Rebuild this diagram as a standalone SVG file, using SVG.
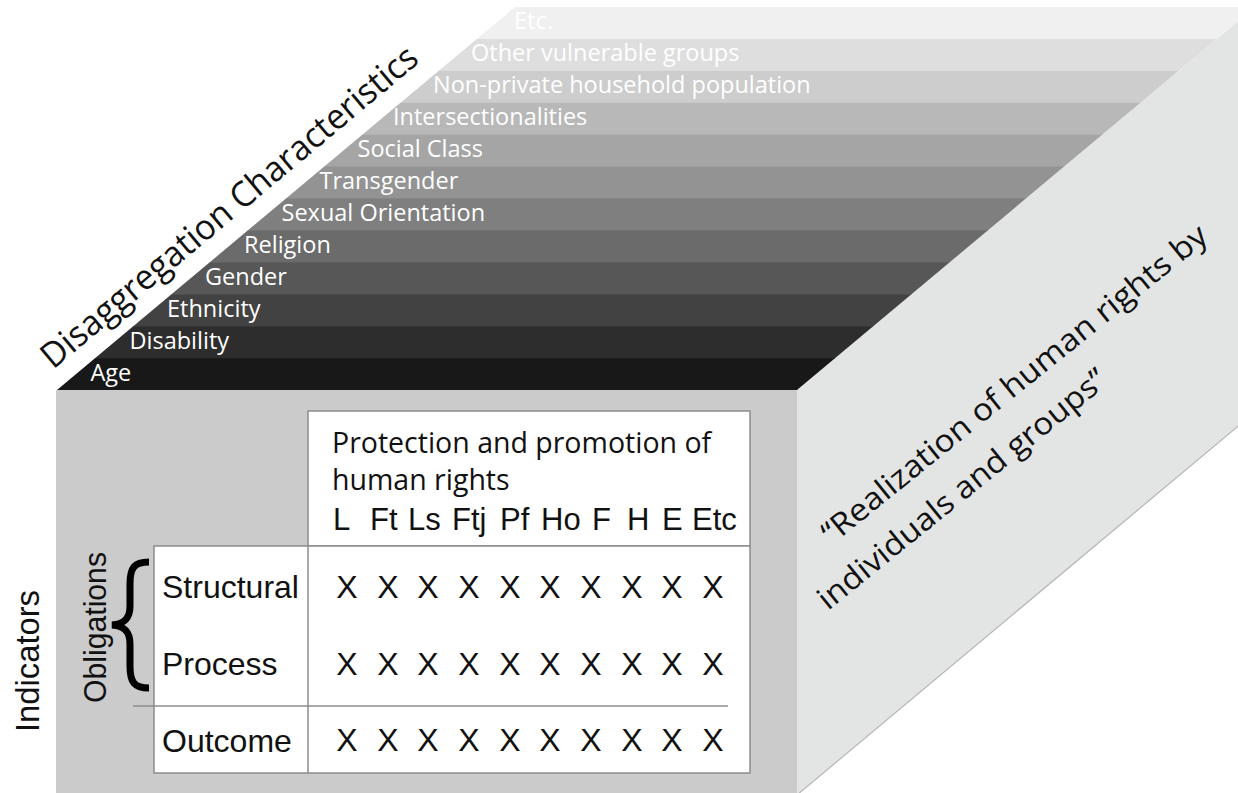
<svg xmlns="http://www.w3.org/2000/svg" width="1238" height="793" viewBox="0 0 1238 793">
<style>
.lbl{font-family:"Open Sans","Noto Sans",sans-serif;font-size:23.5px;fill:#fff}
.ar{font-family:"Liberation Sans",Arial,sans-serif;fill:#111}
.os{font-family:"Open Sans","Noto Sans",sans-serif;fill:#111}
.x{font-size:32px;text-anchor:middle}
.hd{font-size:31px}
.row{font-size:32px}
.tb{fill:#fff;stroke:#8c8c8c;stroke-width:1.5}
.ln{stroke:#8c8c8c;stroke-width:1.5;fill:none}
</style>
<defs>
<clipPath id="topclip"><polygon points="57,390 515,7 1255,7 797,390"/></clipPath>
</defs>
<rect width="1238" height="793" fill="#fff"/>

<g id="side-face">
<polygon points="797,390 1255,7 1255,412 797,795" fill="#e3e4e4"/>
<line x1="797" y1="795" x2="1255" y2="412" stroke="#b5b5b5" stroke-width="1.2"/>
<text class="os" font-size="31" transform="translate(832,545) rotate(-39)" textLength="486" lengthAdjust="spacingAndGlyphs">“Realization of human rights by</text>
<text class="os" font-size="31" transform="translate(828,611) rotate(-39)" textLength="362" lengthAdjust="spacingAndGlyphs">individuals and groups”</text>
</g>

<g id="top-face">
<g clip-path="url(#topclip)">
<rect x="50" y="7" width="1210" height="32.5" fill="#f0f0f0"/>
<rect x="50" y="38.92" width="1210" height="32.5" fill="#dedede"/>
<rect x="50" y="70.83" width="1210" height="32.5" fill="#cdcdcd"/>
<rect x="50" y="102.75" width="1210" height="32.5" fill="#b8b8b8"/>
<rect x="50" y="134.67" width="1210" height="32.5" fill="#a5a5a5"/>
<rect x="50" y="166.58" width="1210" height="32.5" fill="#939393"/>
<rect x="50" y="198.5" width="1210" height="32.5" fill="#7f7f7f"/>
<rect x="50" y="230.42" width="1210" height="32.5" fill="#6b6b6b"/>
<rect x="50" y="262.33" width="1210" height="32.5" fill="#575757"/>
<rect x="50" y="294.25" width="1210" height="32.5" fill="#424242"/>
<rect x="50" y="326.17" width="1210" height="32.5" fill="#2d2d2d"/>
<rect x="50" y="358.08" width="1210" height="32" fill="#181818"/>
</g>
<text class="lbl" x="514" y="29.4">Etc.</text>
<text class="lbl" x="471" y="61.3">Other vulnerable groups</text>
<text class="lbl" x="433" y="93.3">Non-private household population</text>
<text class="lbl" x="393" y="125.2">Intersectionalities</text>
<text class="lbl" x="357.5" y="157.1">Social Class</text>
<text class="lbl" x="319.5" y="189">Transgender</text>
<text class="lbl" x="281.5" y="220.9">Sexual Orientation</text>
<text class="lbl" x="244" y="252.8">Religion</text>
<text class="lbl" x="205" y="284.8">Gender</text>
<text class="lbl" x="167" y="316.7">Ethnicity</text>
<text class="lbl" x="129.5" y="348.6">Disability</text>
<text class="lbl" x="90.5" y="380.5">Age</text>
<text class="os" font-size="35" transform="translate(53,370) rotate(-40)" textLength="480" lengthAdjust="spacingAndGlyphs">Disaggregation Characteristics</text>
</g>

<g id="front-face">
<rect x="56" y="390" width="741" height="405" fill="#cbcbcb"/>
</g>

<g id="indicators-label">
<text class="ar" font-size="33" transform="translate(39,732) rotate(-90)" textLength="142" lengthAdjust="spacingAndGlyphs">Indicators</text>
</g>

<g id="obligations">
<text class="ar" font-size="31" transform="translate(106,703) rotate(-90)" textLength="151" lengthAdjust="spacingAndGlyphs">Obligations</text>
<path d="M149,562 C134,562 130,568 130,584 L130,606 C130,619 124,624 112,625 C124,626 130,631 130,644 L130,666 C130,682 134,688 149,688" fill="none" stroke="#000" stroke-width="7"/>
</g>

<g id="table">
<rect class="tb" x="308" y="411" width="442" height="135"/>
<rect class="tb" x="154" y="546" width="596" height="227"/>
<text class="os" font-size="28.5" x="332" y="453">Protection and promotion of</text>
<text class="os" font-size="28.5" x="332" y="490">human rights</text>
<g class="ar hd">
<text x="333" y="530">L</text>
<text x="370" y="530">Ft</text>
<text x="408" y="530">Ls</text>
<text x="452" y="530">Ftj</text>
<text x="500" y="530">Pf</text>
<text x="541" y="530">Ho</text>
<text x="592" y="530">F</text>
<text x="627" y="530">H</text>
<text x="662" y="530">E</text>
<text x="692" y="530">Etc</text>
</g>
<g class="ar row">
<text x="162" y="598">Structural</text>
<text x="162" y="675">Process</text>
<text x="162" y="752">Outcome</text>
</g>
<g class="ar x">
<text y="598"><tspan x="347">X</tspan><tspan x="388">X</tspan><tspan x="428">X</tspan><tspan x="469">X</tspan><tspan x="510">X</tspan><tspan x="550">X</tspan><tspan x="591">X</tspan><tspan x="632">X</tspan><tspan x="672">X</tspan><tspan x="713">X</tspan></text>
<text y="675"><tspan x="347">X</tspan><tspan x="388">X</tspan><tspan x="428">X</tspan><tspan x="469">X</tspan><tspan x="510">X</tspan><tspan x="550">X</tspan><tspan x="591">X</tspan><tspan x="632">X</tspan><tspan x="672">X</tspan><tspan x="713">X</tspan></text>
<text y="751"><tspan x="347">X</tspan><tspan x="388">X</tspan><tspan x="428">X</tspan><tspan x="469">X</tspan><tspan x="510">X</tspan><tspan x="550">X</tspan><tspan x="591">X</tspan><tspan x="632">X</tspan><tspan x="672">X</tspan><tspan x="713">X</tspan></text>
</g>
</g>

<g id="connectors">
<line class="ln" x1="308" y1="546" x2="308" y2="773"/>
<line class="ln" x1="133" y1="706" x2="728" y2="706"/>
</g>
</svg>
